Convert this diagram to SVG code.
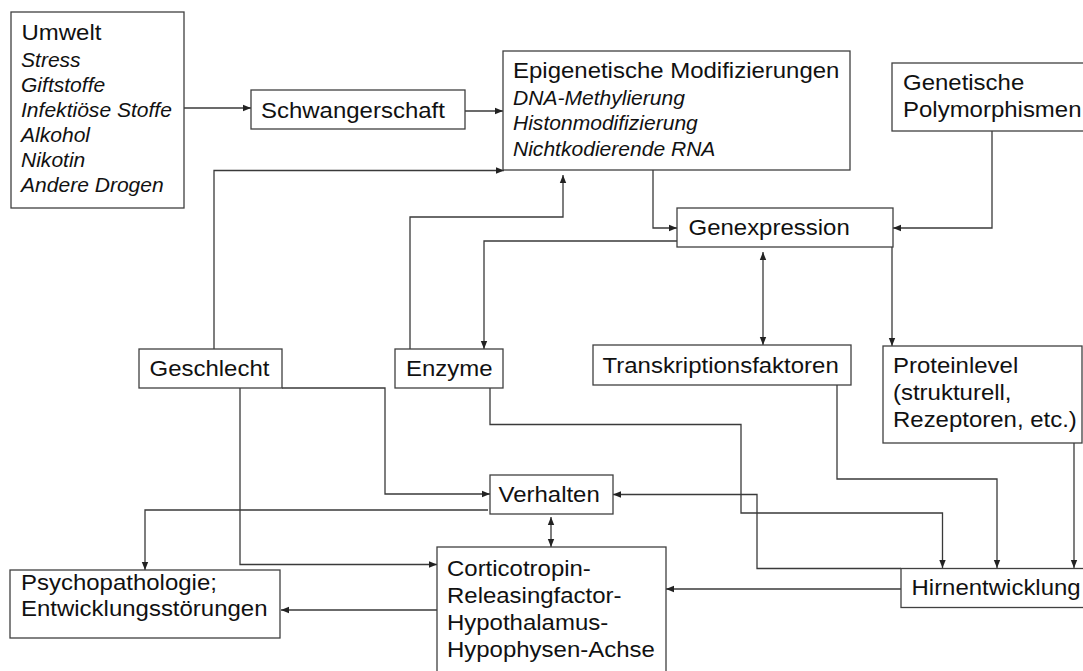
<svg xmlns="http://www.w3.org/2000/svg" width="1083" height="671" viewBox="0 0 1083 671">
<defs>
<style>
.box{fill:#fff;stroke:#404040;stroke-width:1.3}
.t{font-family:"Liberation Sans",Arial,sans-serif;font-size:22px;fill:#111}
.i{font-family:"Liberation Sans",Arial,sans-serif;font-size:19.5px;font-style:italic;fill:#111}
.c{fill:none;stroke:#3a3a3a;stroke-width:1.3}
</style>
<marker id="ah" markerUnits="userSpaceOnUse" markerWidth="9" markerHeight="8" refX="8" refY="4" orient="auto-start-reverse">
<path d="M0,0.8 L8,4 L0,7.2 z" fill="#222"/>
</marker>
</defs>
<rect width="1083" height="671" fill="#fff"/>
<g id="connectors">
<path class="c" d="M184,108 H251" marker-end="url(#ah)"/>
<path class="c" d="M465,111 H503" marker-end="url(#ah)"/>
<path class="c" d="M214,349 V170.5 H504" marker-end="url(#ah)"/>
<path class="c" d="M410,349 V217 H563 V175" marker-end="url(#ah)"/>
<path class="c" d="M653,170 V228 H677" marker-end="url(#ah)"/>
<path class="c" d="M992,131 V228 H893" marker-end="url(#ah)"/>
<path class="c" d="M677,241 H484 V349" marker-end="url(#ah)"/>
<path class="c" d="M763,252 V345" marker-start="url(#ah)" marker-end="url(#ah)"/>
<path class="c" d="M892,247 V346" marker-end="url(#ah)"/>
<path class="c" d="M282,388 H385 V494 H490" marker-end="url(#ah)"/>
<path class="c" d="M240,388 V564.5 H437" marker-end="url(#ah)"/>
<path class="c" d="M488,510 H145 V570" marker-end="url(#ah)"/>
<path class="c" d="M551,517 V547" marker-start="url(#ah)" marker-end="url(#ah)"/>
<path class="c" d="M437,610 H281" marker-end="url(#ah)"/>
<path class="c" d="M901,589 H666" marker-end="url(#ah)"/>
<path class="c" d="M490,388 V424.5 H741 V513 H942.5 V568" marker-end="url(#ah)"/>
<path class="c" d="M837,385 V479 H997 V568" marker-end="url(#ah)"/>
<path class="c" d="M1074,443 V568" marker-end="url(#ah)"/>
<path class="c" d="M901,568.5 H757 V494.5 H613" marker-end="url(#ah)"/>
</g>
<g id="umwelt">
<rect class="box" x="11" y="12" width="173" height="196"/>
<text class="t" transform="matrix(1.09 0 0 1 21.5 40)">Umwelt</text>
<text class="i" transform="matrix(1.08 0 0 1 21 67)"><tspan x="0" y="0">Stress</tspan><tspan x="0" y="25">Giftstoffe</tspan><tspan x="0" y="50">Infektiöse Stoffe</tspan><tspan x="0" y="75">Alkohol</tspan><tspan x="0" y="100">Nikotin</tspan><tspan x="0" y="125">Andere Drogen</tspan></text>
</g>
<g id="schwangerschaft">
<rect class="box" x="251" y="90" width="214" height="39"/>
<text class="t" transform="matrix(1.09 0 0 1 261 117.5)">Schwangerschaft</text>
</g>
<g id="epigenetik">
<rect class="box" x="503" y="51" width="347" height="119"/>
<text class="t" transform="matrix(1.09 0 0 1 513 78)">Epigenetische Modifizierungen</text>
<text class="i" transform="matrix(1.08 0 0 1 513 104.5)"><tspan x="0" y="0">DNA-Methylierung</tspan><tspan x="0" y="25.8">Histonmodifizierung</tspan><tspan x="0" y="51.6">Nichtkodierende RNA</tspan></text>
</g>
<g id="genetik">
<rect class="box" x="892" y="63" width="200" height="68"/>
<text class="t" transform="matrix(1.09 0 0 1 903 90)"><tspan x="0" y="0">Genetische</tspan><tspan x="0" y="27.5">Polymorphismen</tspan></text>
</g>
<g id="genexpression">
<rect class="box" x="677" y="208" width="216" height="39"/>
<text class="t" transform="matrix(1.09 0 0 1 688.5 235)">Genexpression</text>
</g>
<g id="geschlecht">
<rect class="box" x="139" y="349" width="143" height="39"/>
<text class="t" transform="matrix(1.09 0 0 1 149.5 376)">Geschlecht</text>
</g>
<g id="enzyme">
<rect class="box" x="395" y="349" width="108" height="39"/>
<text class="t" transform="matrix(1.09 0 0 1 406 376)">Enzyme</text>
</g>
<g id="transkription">
<rect class="box" x="593" y="345" width="258" height="40"/>
<text class="t" transform="matrix(1.09 0 0 1 602.5 373)">Transkriptionsfaktoren</text>
</g>
<g id="proteinlevel">
<rect class="box" x="883" y="346" width="199" height="97"/>
<text class="t" transform="matrix(1.09 0 0 1 893 373)"><tspan x="0" y="0">Proteinlevel</tspan><tspan x="0" y="27">(strukturell,</tspan><tspan x="0" y="54">Rezeptoren, etc.)</tspan></text>
</g>
<g id="verhalten">
<rect class="box" x="490" y="475" width="123" height="39"/>
<text class="t" transform="matrix(1.09 0 0 1 498.5 502)">Verhalten</text>
</g>
<g id="crf">
<rect class="box" x="437" y="547" width="229" height="130"/>
<text class="t" transform="matrix(1.09 0 0 1 447 576)"><tspan x="0" y="0">Corticotropin-</tspan><tspan x="0" y="27">Releasingfactor-</tspan><tspan x="0" y="54">Hypothalamus-</tspan><tspan x="0" y="81">Hypophysen-Achse</tspan></text>
</g>
<g id="psychopathologie">
<rect class="box" x="10" y="570" width="270" height="68"/>
<text class="t" transform="matrix(1.09 0 0 1 21 590)"><tspan x="0" y="0">Psychopathologie;</tspan><tspan x="0" y="26.5">Entwicklungsstörungen</tspan></text>
</g>
<g id="hirnentwicklung">
<rect class="box" x="901" y="568.5" width="190" height="39"/>
<text class="t" transform="matrix(1.09 0 0 1 911.5 595)">Hirnentwicklung</text>
</g>
</svg>
